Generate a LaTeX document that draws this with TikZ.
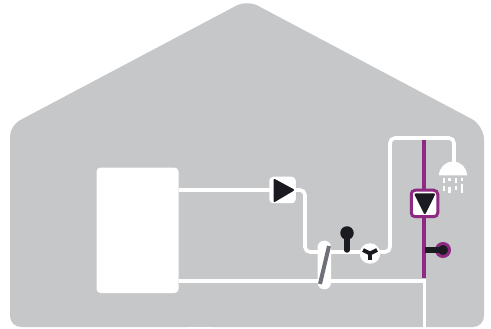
\documentclass[tikz,border=0pt]{standalone}
\definecolor{housegrey}{HTML}{C6C7C9}
\definecolor{darkink}{HTML}{1A1A20}
\definecolor{purpleline}{HTML}{8E2A82}
\definecolor{hxgrey}{HTML}{6F6F78}
\tikzset{
  pipe/.style={draw=white,line width=3.6pt,rounded corners=5pt},
  coldpipe/.style={draw=white,line width=3.6pt},
  hotpipe/.style={draw=purpleline,line width=4pt},
  stem/.style={draw=darkink,line width=5.5pt,line cap=round},
  glyph/.style={fill=darkink,draw=darkink,line width=2pt,line join=round},
  drop/.style={draw=white,line width=2.5pt}
}
\begin{document}
\begin{tikzpicture}[x=1pt,y=-1pt]
\useasboundingbox (0,0) rectangle (491,329);
\fill[white] (0,0) rectangle (491,329);
\fill[housegrey] (200,327) [rounded corners=11pt] -- (10,327) -- (10,125.5) [rounded corners=12pt] -- (247,0) [rounded corners=14pt] -- (484,125.5) [rounded corners=11pt] -- (484,327) -- (200,327) -- cycle;
\fill[housegrey] (150,310) rectangle (250,327);
\node[fill=white,rounded corners=4pt,minimum width=82pt,minimum height=125.5pt,inner sep=0pt,outer sep=0pt] (boiler) at (137.5,230.3) {};
\coordinate (pumpin) at (270,190);
\coordinate (pumpout) at (295,190);
\coordinate (mix) at (370,252);
\coordinate (showertop) at (454,165);
\coordinate (coldend) at (424.5,329);
\coordinate (coldbend) at (424.5,281);
\draw[pipe] (boiler.east |- pumpin) -- (pumpin);
\draw[pipe] (pumpout) -| (305,252) -- (mix);
\draw[pipe] (mix) -- (390,252) -- (390,138) -- (454,138) -- (showertop);
\draw[coldpipe] (boiler.east |- coldbend) -- (coldbend) -- (coldend);
\node[fill=white,rounded corners=4pt,minimum size=26.5pt,inner sep=0pt] (pumpa) at (282.5,190) {};
\draw[glyph] (274.5,180) -- (293,190) -- (274.5,201) -- cycle;
\node[fill=white,rounded corners=6.5pt,minimum width=13.5pt,minimum height=48.5pt,inner sep=0pt] (hx) at (324.3,265) {};
\draw[draw=hxgrey,line width=4pt] (329,246) -- (320,284);
\node[circle,fill=darkink,minimum size=13.5pt,inner sep=0pt] (sensa) at (347,233) {};
\draw[stem] (sensa.center) -- (347,250);
\node[circle,fill=white,minimum size=20.5pt,inner sep=0pt] (valve) at (370,253.5) {};
\draw[darkink,line width=4pt] (valve.center) -- (363,250);
\draw[darkink,line width=4pt] (valve.center) -- (377,250);
\draw[darkink,line width=4pt] (valve.center) -- (370,260);
\draw[hotpipe] (424,140) -- (424,278);
\node[fill=white,draw=purpleline,line width=3pt,rounded corners=4pt,minimum size=26.5pt,inner sep=0pt] (pumpb) at (424.5,203.5) {};
\draw[glyph] (415.5,194.5) -- (434,194.5) -- (424.8,213) -- cycle;
\node[circle,fill=darkink,draw=purpleline,line width=3pt,minimum size=13pt,inner sep=0pt] (sensb) at (443,250) {};
\draw[stem,line cap=butt] (425,250) -- (sensb.center);
\fill[white] (439,175.5) arc[start angle=180,end angle=0,radius=14pt] -- cycle;
\draw[drop] (444,178) -- (444,183) (444,186) -- (444,191);
\draw[drop] (449.5,178) -- (449.5,181) (449.5,187) -- (449.5,193);
\draw[drop] (456,178) -- (456,183) (456,186) -- (456,190);
\draw[drop] (462,178) -- (462,181) (462,184) -- (462,193);
\end{tikzpicture}
\end{document}
